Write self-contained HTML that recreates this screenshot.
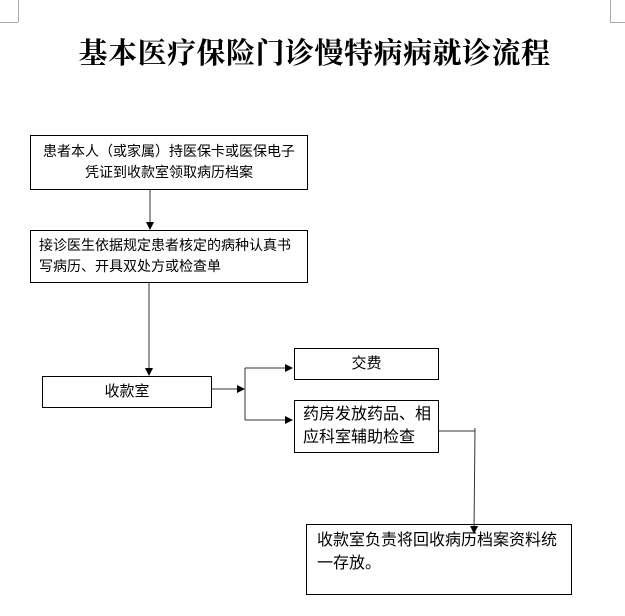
<!DOCTYPE html>
<html><head><meta charset="utf-8"><style>
body{margin:0;width:625px;height:616px;background:#fff;position:relative;overflow:hidden;font-family:"Liberation Sans","Noto Sans CJK SC",sans-serif;}
.b{position:absolute;border:1px solid #000;box-sizing:border-box;font-size:14px;line-height:21px;color:#000;}
</style></head><body>
<div style="position:absolute;left:0;top:22px;width:18px;border-top:1px solid #aaa"></div>
<div style="position:absolute;left:18px;top:0;height:22px;border-left:1px solid #aaa"></div>
<div style="position:absolute;left:610px;top:22px;width:15px;border-top:1px solid #aaa"></div>
<div style="position:absolute;left:610px;top:0;height:22px;border-left:1px solid #aaa"></div>
<div style="position:absolute;left:0;width:625px;top:31px;text-align:center;font-family:'Noto Serif CJK SC',serif;font-weight:bold;font-size:29px;letter-spacing:0.5px;padding-left:2px">基本医疗保险门诊慢特病病就诊流程</div>
<div class="b" style="left:30px;top:135px;width:278px;height:55px;text-align:center;padding-top:5px">患者本人（或家属）持医保卡或医保电子<br>凭证到收款室领取病历档案</div>
<div class="b" style="left:30px;top:230px;width:278px;height:53px;padding:4px 0 0 8px">接诊医生依据规定患者核定的病种认真书<br>写病历、开具双处方或检查单</div>
<div class="b" style="left:42px;top:376px;width:170px;height:32px;text-align:center;padding-top:4px;font-size:15px">收款室</div>
<div class="b" style="left:294px;top:348px;width:145px;height:32px;text-align:center;padding-top:4px;font-size:15px">交费</div>
<div class="b" style="left:294px;top:400px;width:145px;height:53px;padding:2px 0 0 8px;font-size:16px;line-height:23px">药房发放药品、相<br>应科室辅助检查</div>
<div class="b" style="left:306px;top:524px;width:266px;height:71px;padding:4px 0 0 10px;font-size:16px;line-height:23px">收款室负责将回收病历档案资料统<br>一存放。</div>
<svg width="625" height="616" style="position:absolute;left:0;top:0">
<defs><marker id="a" markerWidth="8" markerHeight="8" refX="7" refY="4" orient="auto" markerUnits="userSpaceOnUse"><path d="M0,0 L8,4 L0,8z" fill="#000"/></marker></defs>
<g stroke="#333" stroke-width="1" fill="none">
<line x1="150" y1="190" x2="150" y2="229" marker-end="url(#a)"/>
<line x1="149" y1="283" x2="149" y2="375" marker-end="url(#a)"/>
<line x1="212" y1="389" x2="244" y2="389" marker-end="url(#a)"/>
<line x1="245" y1="368" x2="245" y2="420"/>
<line x1="245" y1="368" x2="292" y2="368" marker-end="url(#a)"/>
<line x1="245" y1="420" x2="292" y2="420" marker-end="url(#a)"/>
<line x1="439" y1="431" x2="475" y2="431"/>
<line x1="475" y1="428" x2="474" y2="533" marker-end="url(#a)"/>
</g></svg>
</body></html>
